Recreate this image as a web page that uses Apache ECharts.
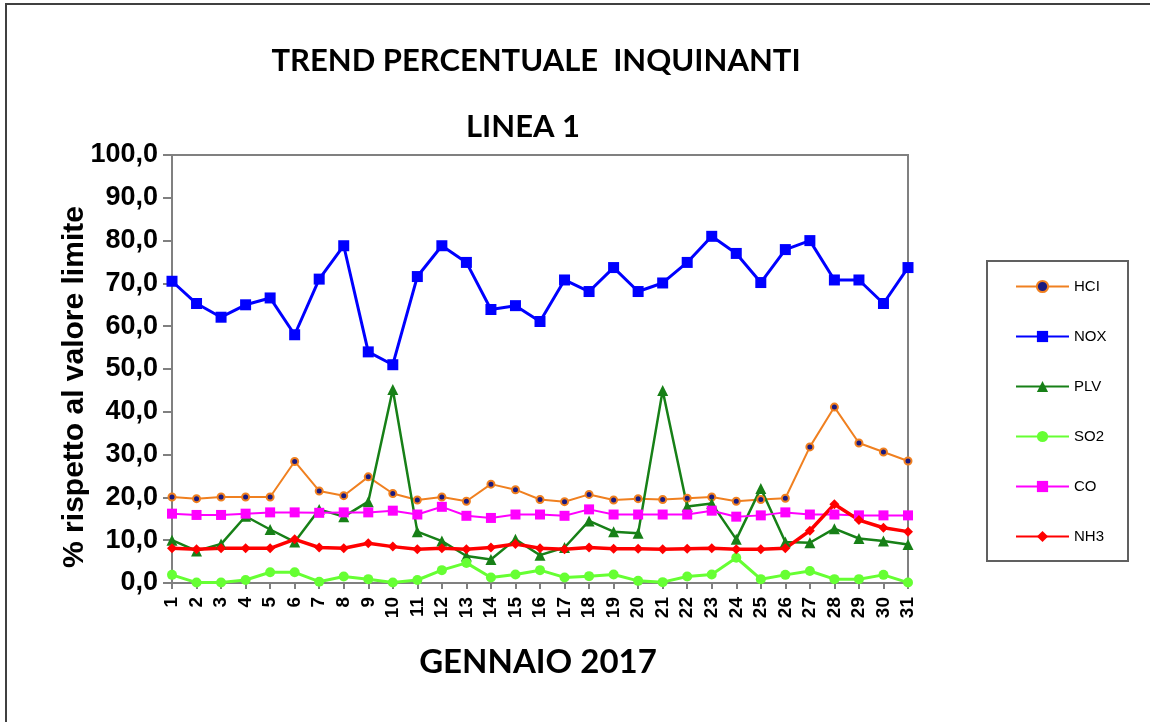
<!DOCTYPE html>
<html>
<head>
<meta charset="utf-8">
<script src="https://cdn.jsdelivr.net/npm/echarts@6/dist/echarts.min.js"></script>
<style>
html,body{margin:0;padding:0;background:#fff;}
#chart{width:1150px;height:722px;}
</style>
</head>
<body>
<div id="chart"></div>
<script>
const days = ['1','2','3','4','5','6','7','8','9','10','11','12','13','14','15','16','17','18','19','20','21','22','23','24','25','26','27','28','29','30','31'];
const yTicks = [0,10,20,30,40,50,60,70,80,90,100];

const HCI = [20.1,19.7,20.1,20.1,20.1,28.4,21.5,20.4,24.8,20.9,19.4,20.1,19.1,23.1,21.8,19.5,19.0,20.7,19.4,19.7,19.5,19.8,20.1,19.1,19.5,19.8,31.8,41.1,32.7,30.6,28.5];
const NOX = [70.5,65.3,62.1,65.0,66.6,58.0,71.0,78.8,54.0,51.0,71.6,78.8,74.9,63.9,64.8,61.1,70.8,68.1,73.7,68.1,70.1,74.9,81.0,77.0,70.2,77.9,80.0,70.8,70.8,65.3,73.7];
const PLV = [10.0,7.5,9.1,15.6,12.5,9.6,17.2,15.5,19.0,45.2,12.0,9.8,6.3,5.5,10.2,6.5,8.3,14.5,12.0,11.6,45.0,17.9,18.6,10.2,22.1,9.6,9.4,12.7,10.4,9.8,9.0];
const SO2 = [1.9,0.1,0.1,0.7,2.5,2.5,0.3,1.5,0.9,0.1,0.7,3.0,4.7,1.3,2.0,3.0,1.3,1.6,2.0,0.5,0.2,1.5,2.0,5.9,0.9,1.9,2.8,0.9,0.9,1.9,0.1];
const CO  = [16.2,15.9,15.9,16.2,16.5,16.5,16.4,16.5,16.5,16.9,16.0,17.8,15.7,15.2,16.0,16.0,15.7,17.2,16.0,16.0,16.0,16.0,16.9,15.5,15.8,16.5,16.0,16.0,15.8,15.8,15.8];
const NH3 = [8.1,7.9,8.1,8.1,8.1,10.2,8.3,8.1,9.3,8.5,7.9,8.1,7.9,8.3,9.1,8.1,7.9,8.3,8.0,8.0,7.9,8.0,8.1,7.9,7.9,8.1,12.2,18.4,14.7,12.9,12.0];

const chart = echarts.init(document.getElementById('chart'), null, {renderer:'canvas'});

function mk(name, data, color, symbol, size, width, extra) {
  return Object.assign({
    name: name, type: 'line', data: data,
    symbol: symbol, symbolSize: size, showAllSymbol: true,
    lineStyle: {color: color, width: width},
    itemStyle: {color: color},
    emphasis: {disabled: true}
  }, extra || {});
}

const option = {
  animation: false,
  backgroundColor: '#ffffff',
  title: [
    {text: 'TREND PERCENTUALE  INQUINANTI', left: 536, top: 45, textAlign: 'center', padding: 0,
     textStyle: {fontFamily: 'Lato', fontWeight: 'bold', fontSize: 31, color: '#000'}},
    {text: 'LINEA 1', left: 523, top: 111, textAlign: 'center', padding: 0,
     textStyle: {fontFamily: 'Lato', fontWeight: 'bold', fontSize: 31, color: '#000'}},
    {text: 'GENNAIO 2017', left: 538, top: 646, textAlign: 'center', padding: 0,
     textStyle: {fontFamily: 'Lato', fontWeight: 'bold', fontSize: 33, color: '#000'}}
  ],
  graphic: [
    {type: 'rect', shape: {x: 6, y: 4, width: 1170, height: 740}, style: {fill: 'none', stroke: '#404040', lineWidth: 2}, silent: true},
    {type: 'rect', shape: {x: 987, y: 261, width: 141, height: 300}, style: {fill: 'none', stroke: '#606060', lineWidth: 2}, silent: true},
    {type: 'text', x: 75, y: 387, rotation: Math.PI / 2, silent: true,
     style: {text: '% rispetto al valore limite', fontFamily: 'Liberation Sans, Arial', fontWeight: 'bold', fontSize: 30,
       fill: '#000', align: 'center', verticalAlign: 'middle'}}
  ],
  legend: {
    orient: 'vertical', left: 1015, top: 279, padding: 0,
    itemWidth: 53, itemHeight: 14, itemGap: 35,
    textStyle: {fontFamily: 'Liberation Sans, Arial', fontSize: 15, color: '#000'},
    data: ['HCI','NOX','PLV','SO2','CO','NH3']
  },
  grid: {left: 172, top: 155, width: 736, height: 428, show: true, borderColor: '#808080', borderWidth: 2, backgroundColor: 'transparent'},
  xAxis: {
    type: 'category', data: days, boundaryGap: false,
    axisLine: {lineStyle: {color: '#808080', width: 2}},
    axisTick: {show: true, interval: 0, length: 6, lineStyle: {color: '#808080', width: 2}},
    axisLabel: {interval: 0, rotate: 90, margin: 14, color: '#000', fontFamily: 'Liberation Sans, Arial', fontWeight: 'bold', fontSize: 19},
    splitLine: {show: false}
  },
  yAxis: {
    type: 'value', min: yTicks[0], max: yTicks[yTicks.length-1], interval: 10,
    axisLine: {show: true, lineStyle: {color: '#808080', width: 2}},
    axisTick: {show: true, length: 9, lineStyle: {color: '#808080', width: 2}},
    axisLabel: {margin: 14, color: '#000', fontFamily: 'Liberation Sans, Arial', fontWeight: 'bold', fontSize: 27,
      formatter: v => v.toFixed(1).replace('.', ',')},
    splitLine: {show: false}
  },
  series: [
    mk('HCI', HCI, '#F08020', 'circle', 7, 2, {itemStyle: {color: '#1a1a80', borderColor: '#F08020', borderWidth: 2}}),
    mk('NOX', NOX, '#0000FF', 'rect', 11, 3),
    mk('PLV', PLV, '#178017', 'triangle', 11, 2.5),
    mk('SO2', SO2, '#66FF33', 'circle', 10, 3),
    mk('CO', CO, '#FF00FF', 'rect', 10, 2),
    mk('NH3', NH3, '#FF0000', 'diamond', 10, 3.5)
  ]
};
chart.setOption(option);
</script>
</body>
</html>
